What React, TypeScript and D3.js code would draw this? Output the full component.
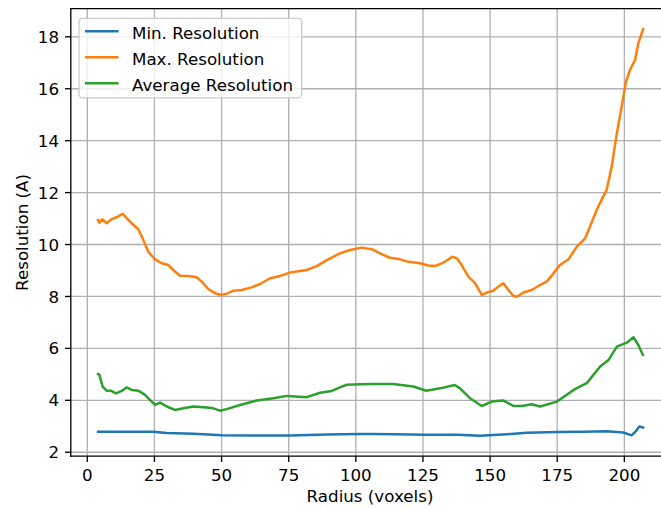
import React from "react";
import * as d3 from "d3";

const minResolution: [number, number][] = [
  [4, 2.79], [15, 2.79], [24.6, 2.79], [29.6, 2.74], [39.5, 2.71], [45, 2.68], [50, 2.65],
  [60, 2.64], [75.5, 2.64], [89.2, 2.68], [101.6, 2.70], [106.5, 2.70], [115, 2.69],
  [125.1, 2.67], [137.6, 2.67], [146.3, 2.63], [156.2, 2.69], [163.6, 2.75], [174.9, 2.78],
  [185, 2.79], [193.4, 2.81], [199.6, 2.76], [202.7, 2.65], [204.2, 2.80], [205.6, 2.99], [207, 2.95],
];

const maxResolution: [number, number][] = [
  [4, 10.94], [4.5, 10.84], [5.6, 10.97], [7.2, 10.82], [9.1, 10.98], [10.9, 11.05], [13.2, 11.18],
  [14.7, 11.01], [16.5, 10.82], [19, 10.59], [20.9, 10.17], [22.7, 9.72], [25.2, 9.43], [27.7, 9.28],
  [30.2, 9.21], [32, 9.02], [34.5, 8.8], [37.6, 8.79], [40.7, 8.74], [42.6, 8.57], [45.1, 8.28],
  [47.6, 8.12], [50, 8.06], [51.9, 8.1], [54.4, 8.22], [57.5, 8.25], [61.2, 8.35], [64.3, 8.48],
  [68.1, 8.7], [71.8, 8.79], [75.5, 8.92], [81.7, 9.02], [85.4, 9.17], [89.2, 9.4], [94.1, 9.66],
  [97.8, 9.79], [102.2, 9.88], [105.9, 9.82], [109, 9.66], [112.7, 9.49], [116.5, 9.43], [119, 9.35],
  [123.9, 9.28], [127, 9.19], [129.5, 9.17], [132.6, 9.3], [135.9, 9.53], [137.6, 9.47], [139.4, 9.21],
  [141.9, 8.76], [144.4, 8.51], [146.9, 8.06], [148.8, 8.15], [151.2, 8.22], [153.1, 8.38], [155, 8.51],
  [156.8, 8.25], [158.7, 8.02], [160, 7.99], [162.4, 8.15], [165.5, 8.25], [168.6, 8.44], [171.1, 8.57],
  [173.6, 8.89], [176, 9.21], [179.2, 9.43], [182.3, 9.92], [185.4, 10.24], [187.2, 10.69], [189.7, 11.33],
  [191.6, 11.74], [193.4, 12.1], [195.3, 13.0], [197.2, 14.28], [199, 15.31], [200.6, 16.27],
  [202.1, 16.72], [204, 17.11], [205.2, 17.75], [207, 18.3],
];

const avgResolution: [number, number][] = [
  [4, 5.01], [4.5, 4.98], [5.7, 4.53], [7.2, 4.37], [8.7, 4.37], [10.7, 4.27], [12.8, 4.36],
  [14.7, 4.5], [16.5, 4.4], [19, 4.37], [21.5, 4.21], [23.4, 4.01], [25.2, 3.82], [27.1, 3.91],
  [29.6, 3.76], [32.6, 3.63], [35.8, 3.69], [39.5, 3.76], [44.5, 3.72], [46.9, 3.69], [49.4, 3.6],
  [51.9, 3.66], [56.9, 3.82], [63.1, 3.99], [69.3, 4.08], [74.3, 4.17], [81.7, 4.12], [86.7, 4.29],
  [91, 4.36], [94.1, 4.5], [96.6, 4.6], [101.6, 4.62], [106.5, 4.63], [113.9, 4.63], [121.4, 4.53],
  [126.3, 4.37], [131.4, 4.46], [136.9, 4.59], [138.8, 4.46], [142.5, 4.08], [146.9, 3.78],
  [150.6, 3.95], [155, 3.99], [158.7, 3.78], [161.8, 3.78], [165.5, 3.85], [168.6, 3.76],
  [174.9, 3.95], [181.6, 4.43], [186, 4.66], [191, 5.3], [194.1, 5.55], [197.2, 6.07], [200.9, 6.22],
  [203.4, 6.43], [205.2, 6.13], [206.9, 5.75],
];

const seriesNames = ["Min. Resolution", "Max. Resolution", "Average Resolution"];
const seriesColors = ["#1f77b4", "#ff7f0e", "#2ca02c"];
const xTicks = [0, 25, 50, 75, 100, 125, 150, 175, 200];
const yTicks = [2, 4, 6, 8, 10, 12, 14, 16, 18];

const W = 661;
const H = 508;
const FONT = "DejaVu Sans, sans-serif";
const FS = 16.7;

export default function App() {
  const allSeries = [minResolution, maxResolution, avgResolution];
  const allPts = allSeries.flat();
  const [xmin, xmax] = d3.extent(allPts, (d) => d[0]) as [number, number];
  const [ymin, ymax] = d3.extent(allPts, (d) => d[1]) as [number, number];
  const xm = (xmax - xmin) * 0.05;
  const ym = (ymax - ymin) * 0.05;

  const left = 70.8, top = 8.7, bottom = 456.2, right = 670.4;
  const x = d3.scaleLinear().domain([xmin - xm, xmax + xm]).range([left, right]);
  const y = d3.scaleLinear().domain([ymin - ym, ymax + ym]).range([bottom, top]);

  const line = d3
    .line<[number, number]>()
    .x((d) => x(d[0]))
    .y((d) => y(d[1]));

  const tickLen = 5.8;

  return (
    <svg
      width={W}
      height={H}
      style={{ position: "absolute", left: 0, top: 0, background: "#fff" }}
      fontFamily={FONT}
    >
      <rect x={0} y={0} width={W} height={H} fill="#fff" />
      <defs>
        <clipPath id="plot">
          <rect x={left} y={top} width={right - left} height={bottom - top} />
        </clipPath>
      </defs>
      {/* grid */}
      <g stroke="#b0b0b0" strokeWidth={1.33}>
        {xTicks.map((t) => (
          <line key={"gx" + t} x1={x(t)} x2={x(t)} y1={top} y2={bottom} />
        ))}
        {yTicks.map((t) => (
          <line key={"gy" + t} x1={left} x2={right} y1={y(t)} y2={y(t)} />
        ))}
      </g>
      {/* lines */}
      <g clipPath="url(#plot)" fill="none" strokeWidth={2.5} strokeLinejoin="round" strokeLinecap="square">
        {allSeries.map((s, i) => (
          <path key={i} d={line(s) || ""} stroke={seriesColors[i]} />
        ))}
      </g>
      {/* spines */}
      <g stroke="#000" strokeWidth={1.33} fill="none">
        <line x1={left} x2={left} y1={top} y2={bottom} strokeLinecap="square" />
        <line x1={left} x2={right} y1={bottom} y2={bottom} strokeLinecap="square" />
        <line x1={left} x2={right} y1={top} y2={top} strokeLinecap="square" />
        <line x1={right} x2={right} y1={top} y2={bottom} />
      </g>
      {/* ticks */}
      <g fontSize={FS} fill="#000">
        {xTicks.map((t) => (
          <g key={"xt" + t}>
            <line x1={x(t)} x2={x(t)} y1={bottom} y2={bottom + tickLen} stroke="#000" strokeWidth={1.33} />
            <text x={x(t)} y={481} textAnchor="middle">
              {t}
            </text>
          </g>
        ))}
        {yTicks.map((t) => (
          <g key={"yt" + t}>
            <line x1={left - tickLen} x2={left} y1={y(t)} y2={y(t)} stroke="#000" strokeWidth={1.33} />
            <text x={59} y={y(t) + 6.1} textAnchor="end">
              {t}
            </text>
          </g>
        ))}
      </g>
      {/* axis labels */}
      <text x={370} y={501.5} textAnchor="middle" fontSize={FS} fill="#000">
        Radius (voxels)
      </text>
      <text
        transform={`translate(27.5, ${(top + bottom) / 2}) rotate(-90)`}
        textAnchor="middle"
        fontSize={FS}
        fill="#000"
      >
        Resolution (A)
      </text>
      {/* legend */}
      <g>
        <rect x={79} y={18.3} width={222.7} height={79.5} rx={3.5} fill="#fff" fillOpacity={0.8} stroke="#cccccc" strokeWidth={1.33} />
        {seriesNames.map((n, i) => {
          const ly = 31.3 + i * 26;
          return (
            <g key={n}>
              <line x1={85} x2={118.5} y1={ly} y2={ly} stroke={seriesColors[i]} strokeWidth={2.5} />
              <text x={132} y={ly + 7.8} fontSize={FS} fill="#000">
                {n}
              </text>
            </g>
          );
        })}
      </g>
    </svg>
  );
}
